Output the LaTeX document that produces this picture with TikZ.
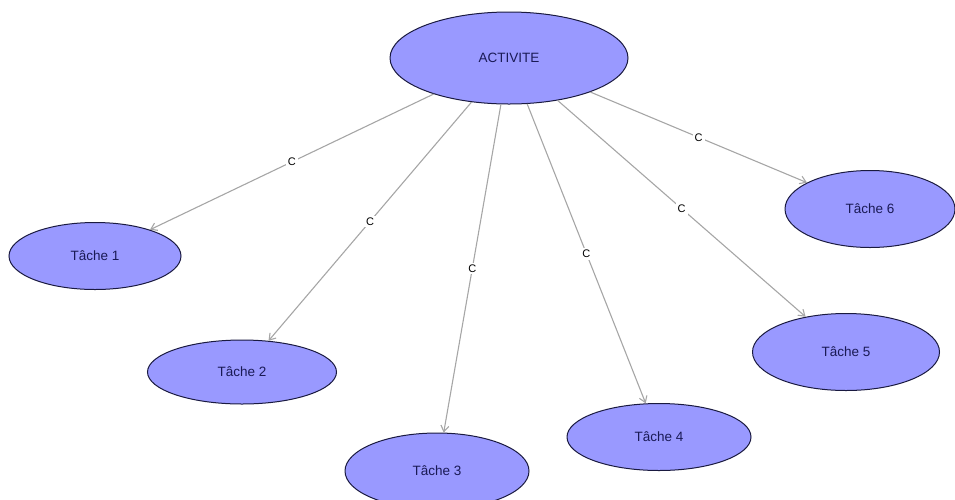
\documentclass[tikz,border=0pt]{standalone}
\usepackage{fontspec}
\setmainfont{Liberation Sans}
\usetikzlibrary{shapes.geometric,arrows.meta}
\definecolor{nodefill}{HTML}{9999FF}
\definecolor{nodeline}{HTML}{1A1A40}
\definecolor{nodetext}{HTML}{1A1A55}
\definecolor{edgegrey}{HTML}{A6A6A6}
\begin{document}
\begin{tikzpicture}[x=1pt,y=-1pt,
  task/.style={ellipse,draw=nodeline,fill=nodefill,line width=1pt,inner sep=0pt,
    text=nodetext,font=\fontsize{13.5}{15}\selectfont},
  link/.style={draw=edgegrey,line width=1.1pt,-{Straight Barb[length=6pt,width=8pt]}},
  lbl/.style={fill=white,inner sep=2pt,font=\fontsize{11}{12}\selectfont,text=black}]
\useasboundingbox (0,0) rectangle (955,499);
\node[task,minimum width=238pt,minimum height=92pt] (act) at (509,58) {ACTIVITE};
\node[task,minimum width=172pt,minimum height=67pt] (t1) at (95,256) {Tâche 1};
\node[task,minimum width=189pt,minimum height=64pt] (t2) at (242,372) {Tâche 2};
\node[task,minimum width=184pt,minimum height=76pt] (t3) at (437,471) {Tâche 3};
\node[task,minimum width=184pt,minimum height=67pt] (t4) at (659,437) {Tâche 4};
\node[task,minimum width=187pt,minimum height=77pt] (t5) at (846,352) {Tâche 5};
\node[task,minimum width=170pt,minimum height=77pt] (t6) at (870,209) {Tâche 6};
\foreach \t in {t1,t2,t3,t4,t5,t6}
  \draw[link] (act) -- node[lbl,pos=0.5] {C} (\t);
\end{tikzpicture}
\end{document}
